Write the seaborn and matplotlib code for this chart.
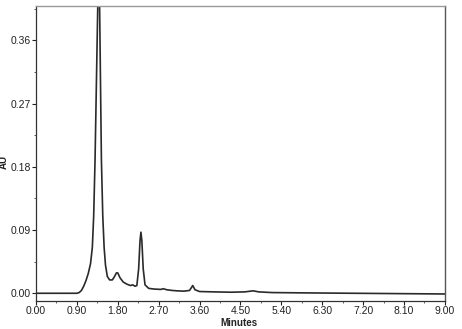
import matplotlib
matplotlib.use("Agg")
import matplotlib.pyplot as plt
import seaborn as sns
import pandas as pd
from matplotlib.ticker import MultipleLocator, FixedLocator

# Chromatogram trace
minutes = [0.00, 0.50, 0.90, 0.95, 1.00, 1.05, 1.10, 1.15, 1.20, 1.24, 1.27,
           1.30, 1.33, 1.36, 1.38, 1.40, 1.42, 1.44, 1.47, 1.50, 1.53, 1.57,
           1.62, 1.68, 1.73, 1.77, 1.80, 1.85, 1.92, 2.00, 2.08, 2.13, 2.18,
           2.22, 2.26, 2.29, 2.31, 2.33, 2.36, 2.40, 2.48, 2.60, 2.75, 2.80,
           2.88, 3.00, 3.10, 3.25, 3.38, 3.45, 3.50, 3.60, 3.90, 4.30, 4.60,
           4.78, 4.90, 5.20, 6.00, 7.00, 8.00, 9.00]
absorbance = [0.000, 0.000, 0.000, 0.001, 0.004, 0.010, 0.018, 0.028, 0.042,
              0.065, 0.110, 0.190, 0.300, 0.410, 0.450, 0.410, 0.300, 0.190,
              0.110, 0.065, 0.040, 0.024, 0.019, 0.019, 0.024, 0.029, 0.029,
              0.022, 0.016, 0.013, 0.011, 0.012, 0.010, 0.011, 0.035, 0.075,
              0.087, 0.075, 0.035, 0.012, 0.007, 0.006, 0.0055, 0.0065, 0.005,
              0.004, 0.0035, 0.003, 0.004, 0.011, 0.005, 0.0025, 0.002, 0.0015,
              0.002, 0.0035, 0.002, 0.001, 0.0005, 0.0, -0.0005, -0.001]

x_ticks = [0.00, 0.90, 1.80, 2.70, 3.60, 4.50, 5.40, 6.30, 7.20, 8.10, 9.00]
y_ticks = [0.00, 0.09, 0.18, 0.27, 0.36]

df = pd.DataFrame({"Minutes": minutes, "AU": absorbance})

sns.set_style("ticks")
plt.rcParams["font.family"] = ["Liberation Sans", "DejaVu Sans"]

fig = plt.figure(figsize=(4.62, 3.29), dpi=100)
ax = fig.add_axes([0.0779, 0.0851, 0.885, 0.898])

sns.lineplot(data=df, x="Minutes", y="AU", ax=ax, color="#2a2a2a",
             linewidth=1.2, estimator=None, sort=False)

ax.set_xlim(0, 9.0)
ax.set_ylim(-0.011, 0.4096)
ax.xaxis.set_major_locator(FixedLocator(x_ticks))
ax.set_xticklabels([f"{v:.2f}" for v in x_ticks])
ax.xaxis.set_minor_locator(MultipleLocator(0.45))
ax.yaxis.set_major_locator(FixedLocator(y_ticks))
ax.set_yticklabels([f"{v:.2f}" for v in y_ticks])
ax.yaxis.set_minor_locator(MultipleLocator(0.045))

ax.tick_params(axis="both", which="major", direction="out", length=3,
               width=0.8, labelsize=7.5, colors="#222222", pad=0.8)
ax.tick_params(axis="both", which="minor", direction="out", length=1.5,
               width=0.6, colors="#444444")

for side in ["left", "bottom"]:
    ax.spines[side].set_color("#333333")
    ax.spines[side].set_linewidth(0.9)
ax.spines["top"].set_visible(True)
ax.spines["right"].set_visible(True)
ax.spines["top"].set_color("#9a9a9a")
ax.spines["right"].set_color("#555555")
ax.spines["top"].set_linewidth(1.0)
ax.spines["right"].set_linewidth(1.0)

ax.set_xlabel("Minutes", fontsize=7, fontweight="bold", color="#222222")
ax.set_ylabel("AU", fontsize=7, fontweight="bold", color="#222222")
ax.xaxis.set_label_coords(0.496, -0.0575)
ax.yaxis.set_label_coords(-0.066, 0.47)

fig.savefig("out.png", dpi=100)
